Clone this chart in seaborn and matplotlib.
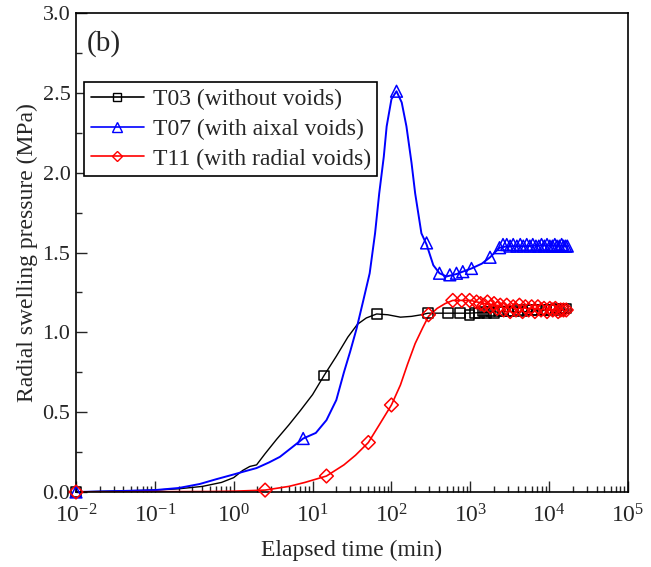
import numpy as np
import pandas as pd
import matplotlib
matplotlib.use("Agg")
import matplotlib.pyplot as plt
import seaborn as sns
from matplotlib.lines import Line2D
from matplotlib.ticker import FixedLocator, MultipleLocator, NullFormatter, LogFormatterSciNotation

# ---------------- data ----------------
# T03 (without voids) - curve
t03_t = [0.01, 0.02, 0.05, 0.1, 0.2, 0.4, 0.7, 1.0, 1.3, 1.6, 1.95, 2.5, 3.5, 5, 7, 10, 14, 20,
         28, 37, 48, 65, 90, 130, 180, 240, 290, 400, 520, 740, 980, 1500, 3000, 6000, 10000, 17000]
t03_p = [0.0, 0.004, 0.008, 0.012, 0.02, 0.035, 0.06, 0.09, 0.135, 0.16, 0.17, 0.24, 0.33, 0.42, 0.51,
         0.61, 0.73, 0.85, 0.97, 1.05, 1.09, 1.115, 1.11, 1.095, 1.10, 1.11, 1.12, 1.12, 1.12, 1.12,
         1.12, 1.125, 1.13, 1.13, 1.14, 1.14]
# T03 markers
t03_mt = [0.01, 14, 65, 290, 520, 740, 980, 1150, 1300, 1450, 1600, 1800, 2000, 2300, 2600, 3000,
          3500, 4000, 4600, 5300, 6100, 7000, 8000, 9200, 10500, 12000, 13500, 15000, 16500]
t03_mp = [0.0, 0.73, 1.115, 1.12, 1.12, 1.12, 1.11, 1.12, 1.12, 1.13, 1.12, 1.13, 1.12, 1.13, 1.13,
          1.13, 1.13, 1.14, 1.13, 1.14, 1.14, 1.14, 1.14, 1.14, 1.14, 1.15, 1.14, 1.15, 1.15]

# T07 (with axial voids) - curve
t07_t = [0.01, 0.03, 0.1, 0.2, 0.37, 0.6, 1.0, 1.32, 1.95, 2.8, 3.85, 5.5, 7.6, 11, 15, 20, 25, 30,
         36, 44, 53, 62, 70, 80, 87, 100, 116, 135, 155, 180, 200, 240, 279, 340, 407, 500, 550,
         668, 803, 1035, 1400, 1780, 2350, 3000, 5000, 8000, 12000, 17000]
t07_p = [0.0, 0.005, 0.012, 0.025, 0.05, 0.08, 0.11, 0.127, 0.15, 0.185, 0.22, 0.28, 0.335, 0.37,
         0.45, 0.576, 0.75, 0.88, 1.02, 1.2, 1.37, 1.62, 1.87, 2.1, 2.29, 2.46, 2.51, 2.44, 2.29,
         2.06, 1.87, 1.62, 1.55, 1.42, 1.37, 1.35, 1.355, 1.365, 1.38, 1.40, 1.43, 1.47, 1.53,
         1.54, 1.54, 1.545, 1.545, 1.54]
# T07 markers
t07_mt = [0.01, 7.6, 116, 279, 407, 550, 668, 803, 1035, 1780, 2350, 2600, 2900, 3200, 3500, 3900,
          4300, 4700, 5200, 5700, 6200, 6800, 7400, 8000, 8700, 9400, 10200, 11000, 11800, 12600,
          13500, 14400, 15300, 16200, 17000]
t07_mp = [0.0, 0.335, 2.51, 1.56, 1.37, 1.36, 1.37, 1.38, 1.40, 1.47, 1.53, 1.55, 1.55, 1.54, 1.55,
          1.54, 1.55, 1.54, 1.55, 1.54, 1.55, 1.54, 1.54, 1.55, 1.54, 1.55, 1.54, 1.54, 1.55, 1.54,
          1.54, 1.55, 1.54, 1.54, 1.54]

# T11 (with radial voids) - curve
t11_t = [0.01, 0.1, 0.5, 1.0, 2.5, 5, 8, 15, 25, 35, 51, 70, 100, 130, 160, 200, 250, 295, 380,
         480, 600, 800, 1000, 1500, 3000, 6000, 10000, 16500]
t11_p = [0.0, 0.002, 0.003, 0.005, 0.012, 0.035, 0.06, 0.10, 0.17, 0.23, 0.31, 0.42, 0.545, 0.67,
         0.80, 0.93, 1.03, 1.10, 1.15, 1.18, 1.20, 1.20, 1.20, 1.18, 1.16, 1.15, 1.14, 1.14]
# T11 markers
t11_mt = [0.01, 2.5, 15, 51, 100, 295, 600, 780, 980, 1200, 1350, 1500, 1650, 1800, 2000, 2200,
          2400, 2650, 2900, 3200, 3500, 3800, 4200, 4600, 5000, 5500, 6000, 6600, 7200, 7900,
          8600, 9400, 10200, 11100, 12000, 13000, 14000, 15200, 16500]
t11_mp = [0.0, 0.012, 0.10, 0.31, 0.545, 1.11, 1.20, 1.20, 1.20, 1.19, 1.18, 1.17, 1.19, 1.16,
          1.18, 1.15, 1.17, 1.14, 1.17, 1.13, 1.16, 1.14, 1.17, 1.13, 1.16, 1.14, 1.16, 1.13,
          1.16, 1.14, 1.15, 1.13, 1.15, 1.14, 1.15, 1.13, 1.14, 1.14, 1.14]

labels = ["T03 (without voids)", "T07 (with aixal voids)", "T11 (with radial voids)"]
colors = ["black", "#0000ff", "#ff0000"]
markers = ["s", "^", "D"]
x_ticks = [1e-2, 1e-1, 1e0, 1e1, 1e2, 1e3, 1e4, 1e5]

# ---------------- style ----------------
sns.set_style("ticks")
plt.rcParams["font.family"] = ["Liberation Serif", "DejaVu Serif"]
plt.rcParams["mathtext.fontset"] = "custom"
plt.rcParams["mathtext.rm"] = "Liberation Serif"
plt.rcParams["mathtext.it"] = "Liberation Serif:italic"
plt.rcParams["mathtext.bf"] = "Liberation Serif:bold"
plt.rcParams["mathtext.default"] = "regular"
plt.rcParams["axes.unicode_minus"] = False

fig = plt.figure(figsize=(6.51, 5.67), dpi=100)
ax = fig.add_axes([76 / 651, 1 - 492 / 567, 552 / 651, 479 / 567])

curves = [(t03_t, t03_p, t03_mt, t03_mp), (t07_t, t07_p, t07_mt, t07_mp), (t11_t, t11_p, t11_mt, t11_mp)]
msizes = [7.0, 8.5, 7.0]
lws = [1.0, 1.4, 1.2]
for (t, p, mt, mp), c, m, ms, lw in zip(curves, colors, markers, msizes, lws):
    df = pd.DataFrame({"t": t, "p": p})
    sns.lineplot(data=df, x="t", y="p", ax=ax, color=c, lw=lw, estimator=None, sort=True)
    dm = pd.DataFrame({"t": mt, "p": mp})
    sns.scatterplot(data=dm, x="t", y="p", ax=ax, marker=m, s=ms ** 2, facecolor="none",
                    edgecolor=c, linewidth=1.1, clip_on=False, zorder=3)

ax.set_xscale("log")
ax.set_xlim(1e-2, 1e5)
ax.set_ylim(0, 3.0)
ax.xaxis.set_major_locator(FixedLocator(x_ticks))
ax.xaxis.set_major_formatter(LogFormatterSciNotation())
minor = [k * d for d in x_ticks[:-1] for k in range(2, 10)]
ax.xaxis.set_minor_locator(FixedLocator(minor))
ax.xaxis.set_minor_formatter(NullFormatter())
ax.yaxis.set_major_locator(MultipleLocator(0.5))
ax.yaxis.set_minor_locator(MultipleLocator(0.25))
ax.yaxis.set_major_formatter(matplotlib.ticker.FormatStrFormatter("%.1f"))

ax.tick_params(which="major", direction="in", length=8, width=1.0, top=False, right=False)
ax.tick_params(which="minor", direction="in", length=4.5, width=1.0, top=False, right=False)
ax.tick_params(axis="x", which="major", labelsize=17, pad=9)
ax.tick_params(axis="y", which="major", labelsize=16, pad=4)
for s in ax.spines.values():
    s.set_linewidth(1.2)
    s.set_color("black")

ax.set_xlabel("Elapsed time (min)", fontsize=17, labelpad=9)
ax.set_ylabel("Radial swelling pressure (MPa)", fontsize=17, labelpad=3)

ax.text(0.02, 0.937, "(b)", transform=ax.transAxes, fontsize=21, va="center", ha="left")

handles = [Line2D([0], [0], color=c, marker=m, markersize=ms * 0.8, markerfacecolor="none",
                  markeredgecolor=c, lw=1.2, markeredgewidth=1.0)
           for c, m, ms in zip(colors, markers, msizes)]
leg = ax.legend(handles, labels, loc="upper left", bbox_to_anchor=(0.0145, 0.856),
                fontsize=17, frameon=True, fancybox=False, framealpha=1, edgecolor="black",
                handlelength=2.25, handletextpad=0.38, borderpad=0.28, labelspacing=0.35,
                borderaxespad=0)
leg.get_frame().set_linewidth(1.2)

fig.savefig("out.png", dpi=100)
